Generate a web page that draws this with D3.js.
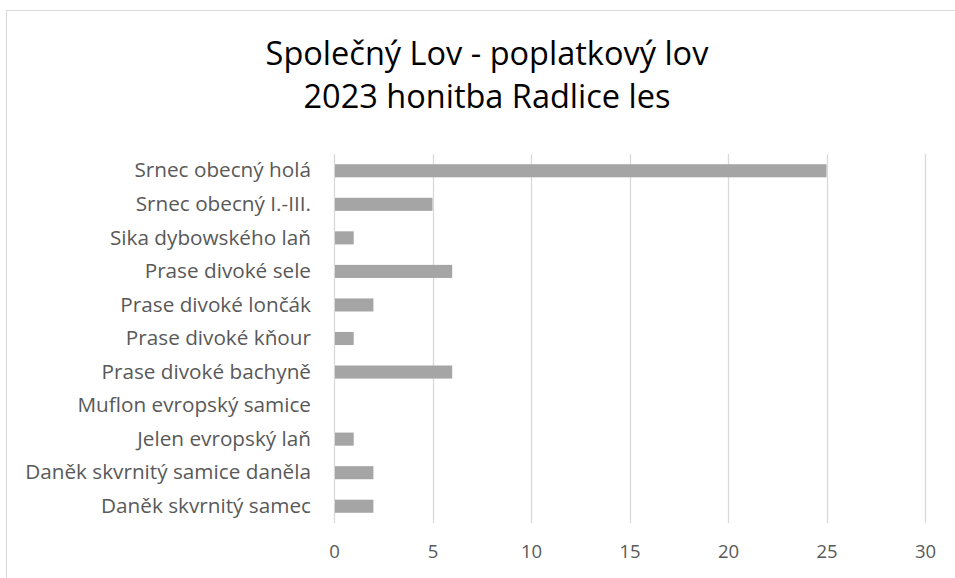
<!DOCTYPE html>
<html><head><meta charset="utf-8">
<script src="https://cdn.jsdelivr.net/npm/d3@7"></script>
<style>
body{margin:0;background:#fff;}
svg text{font-family:"Open Sans",sans-serif;}
</style></head>
<body><svg id="c" width="955" height="578"></svg>
<script>
const categories = ["Srnec obecný holá","Srnec obecný I.-III.","Sika dybowského laň","Prase divoké sele","Prase divoké lončák","Prase divoké kňour","Prase divoké bachyně","Muflon evropský samice","Jelen evropský laň","Daněk skvrnitý samice daněla","Daněk skvrnitý samec"];
const values = [25,5,1,6,2,1,6,0,1,2,2];
const xTicks = [0,5,10,15,20,25,30];
const titleLines = ["Společný Lov - poplatkový lov","2023 honitba Radlice les"];

const svg = d3.select("#c");
svg.append("rect").attr("x",6.5).attr("y",10.5).attr("width",960).attr("height",580)
  .attr("fill","#fff").attr("stroke","#d9d9d9").attr("stroke-width",1);

const x = d3.scaleLinear().domain([0,30]).range([334,925]);
const y = d3.scaleBand().domain(categories).range([154,523]).paddingInner(0.61).paddingOuter(0.305);

svg.append("g").selectAll("line").data(xTicks).join("line")
  .attr("x1",d=>Math.round(x(d))+0.5).attr("x2",d=>Math.round(x(d))+0.5)
  .attr("y1",154).attr("y2",523).attr("stroke","#d9d9d9").attr("stroke-width",1.3);

svg.append("g").selectAll("rect").data(values).join("rect")
  .attr("x",x(0)+1).attr("y",(d,i)=>y(categories[i]))
  .attr("width",d=>Math.max(0,x(d)-x(0)-1)).attr("height",y.bandwidth())
  .attr("fill","#a5a5a5");

const xa = svg.append("g").attr("transform","translate(0,523)")
  .call(d3.axisBottom(x).tickValues(xTicks).tickSize(0).tickPadding(22));
xa.select(".domain").remove();
xa.selectAll("text").attr("font-size",18.5).attr("fill","#595959").style("font-family","Open Sans");

const ya = svg.append("g").attr("transform","translate(334,0)")
  .call(d3.axisLeft(y).tickSize(0).tickPadding(23));
ya.select(".domain").remove();
ya.selectAll("text").attr("font-size",18.5).attr("fill","#595959").style("font-family","Open Sans");
// fit widest label to reference width
let maxW = 0; ya.selectAll("text").each(function(){maxW=Math.max(maxW,this.getComputedTextLength());});
const fs = 18.5*286/maxW;
ya.selectAll("text").attr("font-size",fs);

const tt = svg.append("g").selectAll("text").data(titleLines).join("text")
  .attr("x",487).attr("y",(d,i)=>65+i*43).attr("text-anchor","middle")
  .attr("font-size",29).attr("fill","#000").text(d=>d);
const tw = tt.nodes()[0].getComputedTextLength();
tt.attr("font-size",29*443/tw);
</script></body></html>
